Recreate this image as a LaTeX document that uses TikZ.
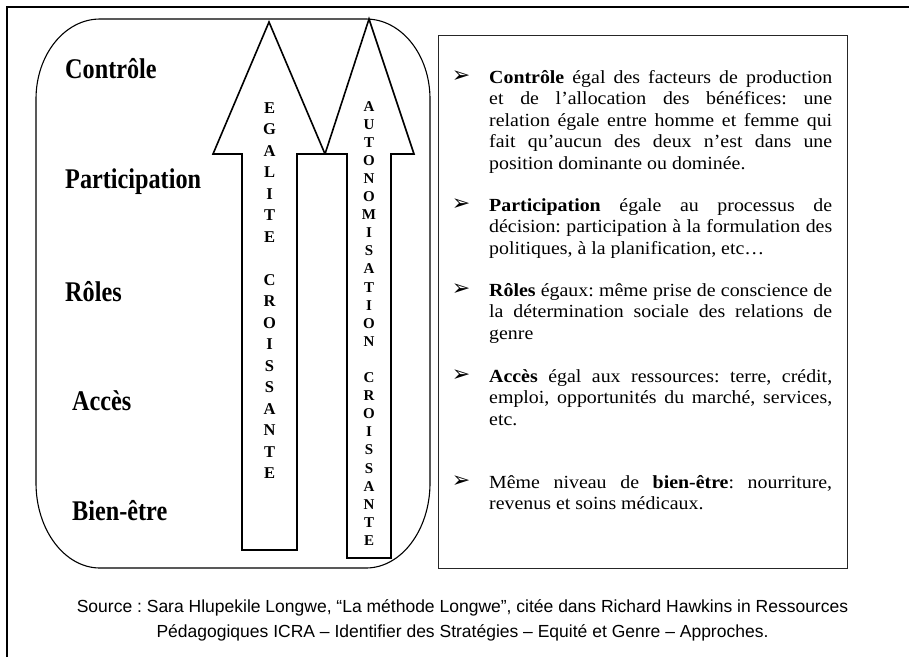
\documentclass[tikz,border=0pt]{standalone}
\usepackage{fontspec}
\setmainfont{Liberation Serif}
\newfontfamily\bodyfont{Liberation Serif}[FakeStretch=1.075]
\newfontfamily\labfont{Liberation Serif}[FakeStretch=0.85]
\newfontfamily\srcfont{Liberation Sans}
\newfontfamily\symfont{DejaVu Sans}
\newcommand{\J}{\frenchspacing\hyphenpenalty=10000\exhyphenpenalty=10000\tolerance=9999\emergencystretch=20pt\relax}
\begin{document}
\begin{tikzpicture}[x=1pt,y=-1pt,
  frame/.style={line width=2pt},
  pill/.style={line width=1.1pt},
  bigarrow/.style={draw, fill=white, line width=1.6pt, line join=miter},
  rbox/.style={draw=black!85, line width=1pt},
  lab/.style={font=\labfont\bfseries\fontsize{28.5}{30}\selectfont, anchor=base west, inner sep=0pt},
  arrA/.style={font=\bfseries\fontsize{16.5}{17}\selectfont, anchor=base, inner sep=0pt},
  arrB/.style={font=\bfseries\fontsize{15}{16}\selectfont, anchor=base, inner sep=0pt},
  item/.style={anchor=base west, inner sep=0pt, text width=343pt, align=justify, font=\bodyfont\fontsize{18.5}{21.5}\selectfont},
  bul/.style={anchor=base, inner sep=0pt, font=\symfont\fontsize{22}{22}\selectfont},
  src/.style={anchor=base, inner sep=0pt, font=\srcfont\fontsize{17.5}{20}\selectfont\frenchspacing}]
\useasboundingbox (0,0) rectangle (909,657);
% outer frame (left and top only)
\draw[frame] (7,657) -- (7,7) -- (909,7);
% rounded panel
\draw[pill] (36,99) arc[start angle=180, end angle=270, x radius=64, y radius=80]
  -- (366,19) arc[start angle=270, end angle=360, x radius=64, y radius=80]
  -- (430,483) arc[start angle=0, end angle=90, x radius=64, y radius=85]
  -- (100,568) arc[start angle=90, end angle=180, x radius=64, y radius=85]
  -- cycle;
% big arrows
\draw[bigarrow] (242,550) -- (242,154) -- (213,154) -- (269,22) -- (325,154) -- (297,154) -- (297,550) -- cycle;
\draw[bigarrow] (347,558) -- (347,154) -- (325,154) -- (369,19) -- (414,154) -- (391,154) -- (391,558) -- cycle;
% arrow letters
\foreach \l [count=\i from 0] in {E,G,A,L,I,T,E}
  \node[arrA] (ega\i) at (269.5, 113+21.5*\i) {\l};
\foreach \l [count=\i from 8] in {C,R,O,I,S,S,A,N,T,E}
  \node[arrA] (ega\i) at (269.5, 113+21.5*\i) {\l};
\foreach \l [count=\i from 0] in {A,U,T,O,N,O,M,I,S,A,T,I,O,N}
  \node[arrB] (aut\i) at (369, 111+18.1*\i) {\l};
\foreach \l [count=\i from 15] in {C,R,O,I,S,S,A,N,T,E}
  \node[arrB] (aut\i) at (369, 111+18.1*\i) {\l};
% left labels
\node[lab] (controle) at (65,78) {Contrôle};
\node[lab] (particip) at (65,188) {Participation};
\node[lab] (roles) at (65,301) {Rôles};
\node[lab] (acces) at (72,410) {Accès};
\node[lab] (bienetre) at (72,520) {Bien-être};
% right box
\draw[rbox] (438,35) rectangle (847,568);
\node[bul] (b1) at (461,82) {➢};
\node[item] (t1) at (489,83) {\J\textbf{Contrôle} égal des facteurs de production\linebreak et de l’allocation des bénéfices: une\linebreak relation égale entre homme et femme qui\linebreak fait qu’aucun des deux n’est dans une\linebreak position dominante ou dominée.};
\node[bul] (b2) at (461,210) {➢};
\node[item] (t2) at (489,211) {\J\textbf{Participation} égale au processus de\linebreak décision: participation à la formulation des\linebreak politiques, à la planification, etc…};
\node[bul] (b3) at (461,295) {➢};
\node[item] (t3) at (489,296) {\J\textbf{Rôles} égaux: même prise de conscience de\linebreak la détermination sociale des relations de\linebreak genre};
\node[bul] (b4) at (461,381) {➢};
\node[item] (t4) at (489,382) {\J\textbf{Accès} égal aux ressources: terre, crédit,\linebreak emploi, opportunités du marché, services,\linebreak etc.};
\node[bul] (b5) at (461,487) {➢};
\node[item] (t5) at (489,488) {\J Même niveau de \textbf{bien-être}: nourriture,\linebreak revenus et soins médicaux.};
% source
\node[src] (src1) at (462.5,612.5) {Source : Sara Hlupekile Longwe, “La méthode Longwe”, citée dans Richard Hawkins in Ressources};
\node[src] (src2) at (462.5,637.5) {Pédagogiques ICRA – Identifier des Stratégies – Equité et Genre – Approches.};
\end{tikzpicture}
\end{document}
